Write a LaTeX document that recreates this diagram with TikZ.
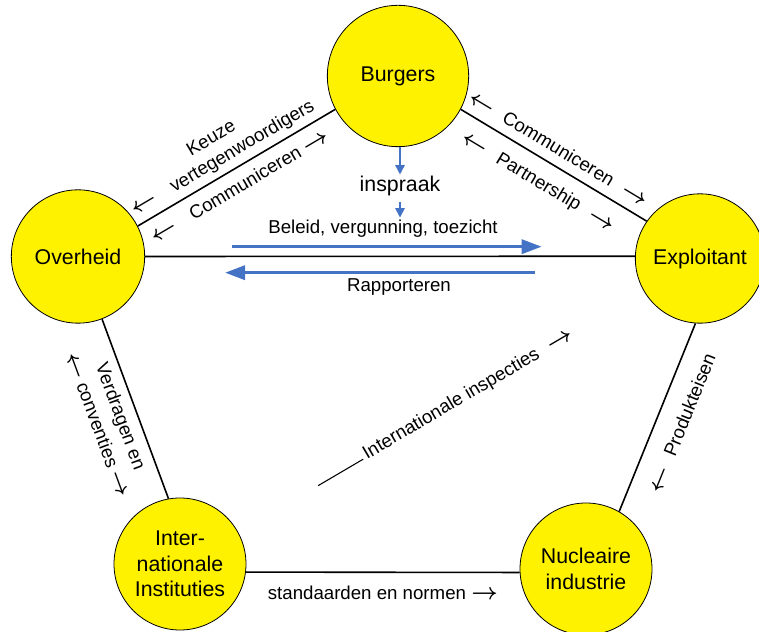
\documentclass[tikz,border=0pt]{standalone}
\usepackage{fontspec}
\setmainfont{Liberation Sans}
\usetikzlibrary{arrows.meta}
\definecolor{arrowblue}{RGB}{68,114,196}
\newcommand{\larr}{{\fontsize{16}{16}\selectfont\boldmath$\leftarrow$}}
\newcommand{\rarr}{{\fontsize{16}{16}\selectfont\boldmath$\rightarrow$}}
\newcommand{\gap}{\hspace{0.7em}}

\begin{document}
\begin{tikzpicture}[x=0.75pt,y=0.75pt,
  actor/.style={circle, draw, line width=0.6pt, fill=yellow, inner sep=0pt, align=center, font=\fontsize{16}{19}\selectfont, minimum size=99pt},
  link/.style={line width=1.2pt},
  lbl/.style={font=\fontsize{14}{17}\selectfont, align=center, inner sep=3pt},
  bigarrow/.style={draw=arrowblue, line width=2.5pt, -{Triangle[length=15pt,width=10.5pt]}},
  smallarrow/.style={draw=arrowblue, line width=1.2pt, -{Triangle[length=7pt,width=7pt]}}]
\useasboundingbox (0,0) rectangle (759,631);

% Circles
\node[actor, minimum size=106pt] (bu) at (398,555) {Burgers};
\node[actor, minimum size=100pt] (ov) at (78,374.5) {Overheid};
\node[actor, minimum size=97pt] (expl) at (700,372.5) {Exploitant};
\node[actor] (inst) at (180,67) {Inter-\\nationale\\Instituties};
\node[actor] (nuc) at (586,62) {Nucleaire\\industrie};

% Straight Lines
\draw[link] (ov.27) -- (bu.208)
  node[lbl, sloped, pos=.47, above=1pt] {Keuze\\\larr\hspace{1em}vertegenwoordigers}
  node[lbl, sloped, pos=.47, below=4pt] {\larr\hspace{1em}Communiceren \rarr};
\draw[link] (bu.332) -- (expl.145)
  node[lbl, sloped, pos=.48, above=4pt] {\larr\gap Communiceren\gap\rarr}
  node[lbl, sloped, pos=.48, below=7pt] {\larr\gap Partnership\gap\rarr};
\draw[link] (ov.0) -- (expl.178);
\draw[link] (ov.291) -- (inst.100)
  node[lbl, sloped, pos=.51, below=3pt, font=\fontsize{14}{18.6}\selectfont] {Verdragen en\\\larr\ conventies \rarr};
\draw[link] (nuc.60) -- (expl.266)
  node[lbl, sloped, pos=.52, below=10pt] {\larr\gap Produkteisen};
\draw[link] (inst.-7) -- (nuc.183)
  node[lbl, pos=.5, below=6.5pt] {standaarden en normen \rarr};
\path (inst) -- (expl)
  node[lbl, sloped, pos=.51] {\rule[0.1em]{2.8em}{0.8pt}\,Internationale inspecties\gap\rarr};

% Text Node
\node[font=\fontsize{16}{19}\selectfont, inner sep=1pt] (insp) at (400,445) {inspraak};
\node[lbl, inner sep=1.5pt] (beleid) at (383,402.5) {Beleid, vergunning, toezicht};
\node[lbl] (rapp) at (399,344) {Rapporteren};

% Blue arrows
\coordinate (b0) at (231.7,384.3);
\coordinate (b1) at (541.7,384.3);
\coordinate (r0) at (535,358.3);
\coordinate (r1) at (225,358.3);
\draw[bigarrow] (b0) -- (b1);
\draw[bigarrow] (r0) -- (r1);
\draw[smallarrow] (bu.south -| insp) -- (insp.north);
\draw[smallarrow, shorten <=3pt] (insp.south) -- (insp |- beleid.north);

\end{tikzpicture}
\end{document}
